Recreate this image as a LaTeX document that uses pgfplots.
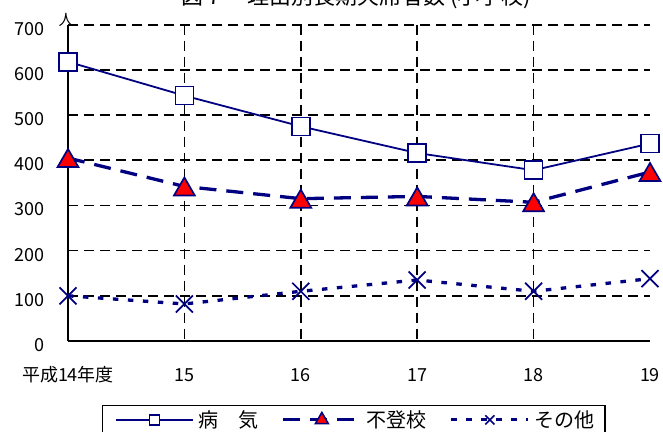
\documentclass[border=0pt]{standalone}
\usepackage{fontspec}
\setmainfont{Noto Sans CJK JP}
\usepackage{pgfplots}
\pgfplotsset{compat=1.18}
\definecolor{navy}{RGB}{0,0,128}
\definecolor{mred}{RGB}{255,0,0}
\begin{document}
\begin{tikzpicture}
% page = 663 x 432 bp, origin at the axis' lower left corner
\path[use as bounding box] (-68bp,-91bp) rectangle (595bp,341bp);
\begin{axis}[
    at={(0,0)}, anchor=south west,
    scale only axis, width=582bp, height=316.3bp,
    xmin=0, xmax=5, ymin=0, ymax=700,
    clip=false,
    axis lines*=left,
    axis line style={black, line width=1.8bp},
    xtick={0,...,5},
    xticklabels={平成14年度,15,16,17,18,19},
    ytick={0,100,...,700},
    major tick length=0pt,
    ymajorgrids,
    grid style={black, line width=1.6bp, dash pattern=on 10bp off 6bp},
    tick label style={font=\fontsize{18bp}{20bp}\selectfont, inner sep=0pt},
    /pgf/number format/assume math mode=true,
    xticklabel style={anchor=base, yshift=-40.5bp},
    yticklabel style={anchor=east, xshift=-23bp, yshift=-4bp},
    legend columns=3,
    legend style={at={(0.0579,-0.2023)}, anchor=north west,
        draw=black, line width=1.5bp, inner xsep=5bp, inner ysep=5bp,
        font=\fontsize{20bp}{22bp}\selectfont,
        column sep=0pt, nodes={inner xsep=5bp, inner ysep=0pt},
        /tikz/every even column/.append style={column sep=18bp}},
    legend image code/.code={\draw[mark repeat=2,mark phase=2,#1]
        plot coordinates {(0bp,0bp)(38.5bp,0bp)(77bp,0bp)};},
]

% vertical grid lines (none at the ends)
\pgfplotsinvokeforeach{1,...,4}{
    \draw[black, line width=1.6bp, dash pattern=on 10bp off 6bp]
        (axis cs:#1,700) -- (axis cs:#1,0);
}

% 病気
\addplot[forget plot, navy, line width=1.8bp, mark=square*, mark size=9bp,
    mark options={solid, fill=white, draw=navy, line width=1.7bp}]
    coordinates {(0,618)(1,543)(2,475)(3,416)(4,378)(5,437)};

% 不登校
\addplot[forget plot, navy, line width=3.3bp, dash pattern=on 17bp off 10bp,
    mark=triangle*, mark size=12bp,
    mark options={solid, fill=mred, draw=navy, line width=1.7bp, yshift=-3bp}]
    coordinates {(0,405)(1,342)(2,315)(3,320)(4,307)(5,374)};

% その他
\addplot[forget plot, navy, line width=3.3bp, dash pattern=on 5.5bp off 9.5bp,
    mark=x, mark size=12bp,
    mark options={solid, draw=navy, line width=1.7bp}]
    coordinates {(0,100)(1,82)(2,110)(3,135)(4,110)(5,138)};

\addlegendimage{navy, line width=1.4bp, mark=square*, mark size=5bp,
    mark options={solid, fill=white, draw=navy, line width=1.5bp},
    legend image code/.code={\path (-8bp,0bp);
        \draw[mark repeat=2,mark phase=2,##1]
        plot coordinates {(0bp,0bp)(38.5bp,0bp)(77bp,0bp)};}}
\addlegendentry{病　気}
\addlegendimage{navy, line width=3bp, dash pattern=on 17bp off 10bp,
    mark=triangle*, mark size=7.5bp,
    mark options={solid, fill=mred, draw=navy, line width=1.5bp}}
\addlegendentry{不登校}
\addlegendimage{navy, line width=3bp, dash pattern=on 5.5bp off 9.5bp,
    mark=x, mark size=6.5bp,
    mark options={solid, draw=navy, line width=1.5bp}}
\addlegendentry{その他}
\end{axis}

\node[anchor=base, font=\fontsize{22bp}{24bp}\selectfont, inner sep=0pt]
    at (288bp,336.5bp) {図７　理由別長期欠席者数 (小学校)};
\node[anchor=base, font=\fontsize{15bp}{16bp}\selectfont, inner sep=0pt]
    at (-2bp,315bp) {人};
\end{tikzpicture}
\end{document}
